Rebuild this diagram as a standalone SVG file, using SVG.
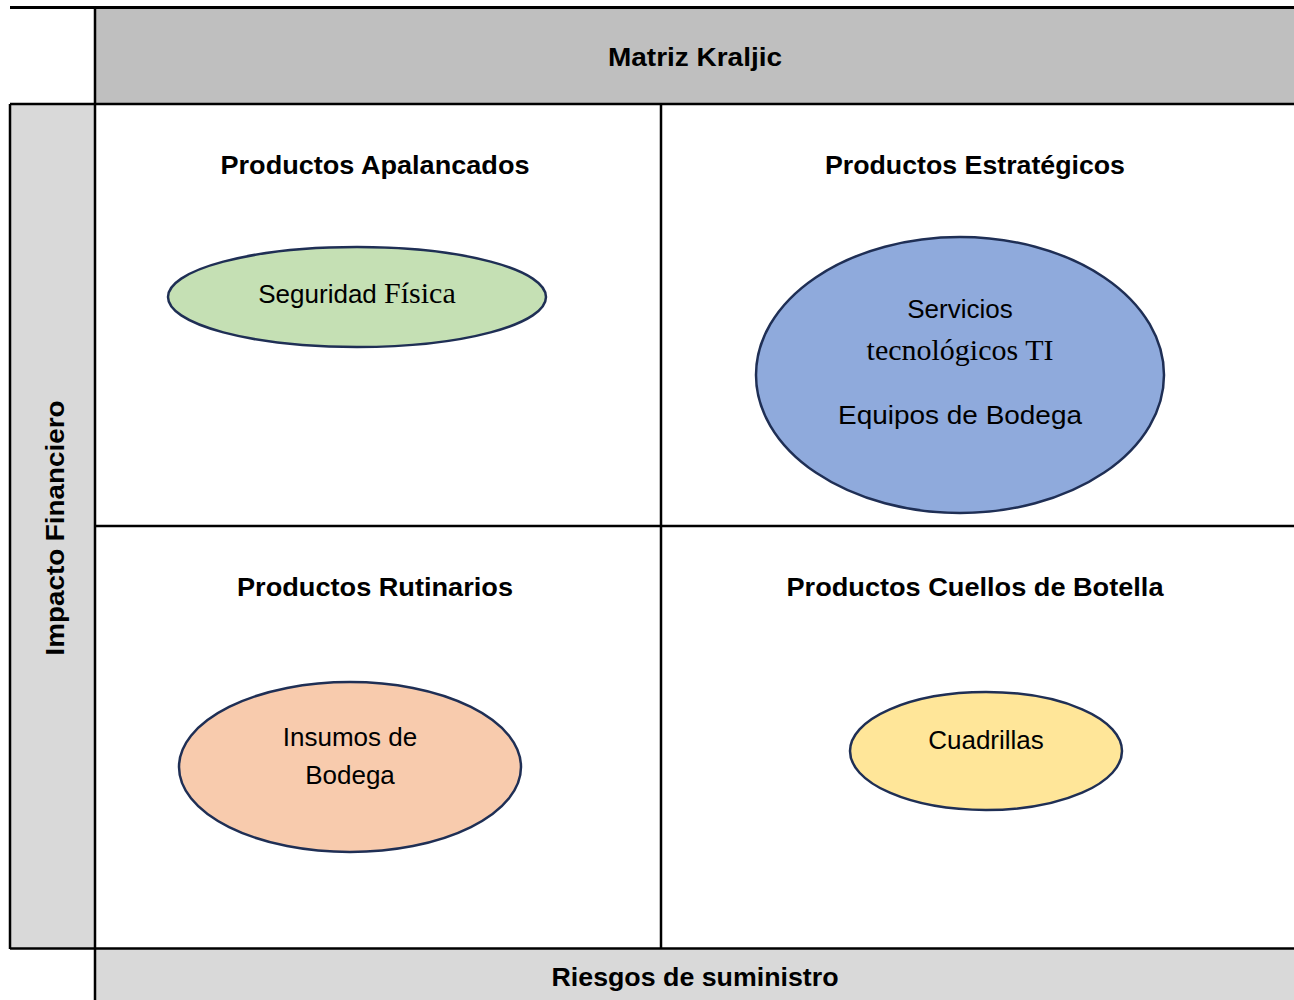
<svg xmlns="http://www.w3.org/2000/svg" width="1294" height="1000" viewBox="0 0 1294 1000">
<style>
.t{font-family:"Liberation Sans",Arial,sans-serif;font-weight:bold;font-size:25px;fill:#000;text-anchor:middle}
.e{font-family:"Liberation Sans",Arial,sans-serif;font-size:26px;fill:#000;text-anchor:middle}
.s{font-family:"Liberation Serif","Times New Roman",serif;font-size:30px}
.ln{stroke:#000;stroke-width:2.5;fill:none}
.el{stroke:#1f2f55;stroke-width:2.5}
</style>
<rect width="1294" height="1000" fill="#fff"/>
<g id="bands">
<rect x="95" y="7" width="1199" height="96" fill="#bfbfbf"/>
<rect x="10" y="104" width="85" height="844" fill="#d9d9d9"/>
<rect x="95" y="949" width="1199" height="51" fill="#d9d9d9"/>
</g>
<g id="grid" class="ln">
<line x1="10" y1="7.5" x2="1294" y2="7.5" style="stroke-width:3"/>
<line x1="95" y1="7" x2="95" y2="1000"/>
<line x1="10" y1="104" x2="1294" y2="104"/>
<line x1="10" y1="104" x2="10" y2="949"/>
<line x1="10" y1="948.5" x2="1294" y2="948.5"/>
<line x1="661" y1="104" x2="661" y2="948"/>
<line x1="95" y1="526" x2="1294" y2="526"/>
</g>
<g id="title"><text class="t" x="695" y="66" textLength="174" lengthAdjust="spacingAndGlyphs">Matriz Kraljic</text></g>
<g id="xaxis"><text class="t" x="695" y="986" textLength="287" lengthAdjust="spacingAndGlyphs">Riesgos de suministro</text></g>
<g id="yaxis"><text class="t" transform="translate(64,528) rotate(-90)" x="0" y="0" textLength="255" lengthAdjust="spacingAndGlyphs">Impacto Financiero</text></g>
<g id="q1">
<text class="t" x="375" y="174" textLength="309" lengthAdjust="spacingAndGlyphs">Productos Apalancados</text>
<ellipse class="el" cx="357" cy="297" rx="189" ry="50" fill="#c5e0b4"/>
<text class="e" x="357" y="303">Seguridad <tspan class="s">Física</tspan></text>
</g>
<g id="q2">
<text class="t" x="975" y="174" textLength="300" lengthAdjust="spacingAndGlyphs">Productos Estratégicos</text>
<ellipse class="el" cx="960" cy="375" rx="204" ry="138" fill="#8faadc"/>
<text class="e" x="960" y="318">Servicios</text>
<text class="e s" x="960" y="360">tecnológicos TI</text>
<text class="e" x="960" y="424" textLength="244" lengthAdjust="spacingAndGlyphs">Equipos de Bodega</text>
</g>
<g id="q3">
<text class="t" x="375" y="596" textLength="276" lengthAdjust="spacingAndGlyphs">Productos Rutinarios</text>
<ellipse class="el" cx="350" cy="767" rx="171" ry="85" fill="#f8cbad"/>
<text class="e" x="350" y="746">Insumos de</text>
<text class="e" x="350" y="784">Bodega</text>
</g>
<g id="q4">
<text class="t" x="975" y="596" textLength="377" lengthAdjust="spacingAndGlyphs">Productos Cuellos de Botella</text>
<ellipse class="el" cx="986" cy="751" rx="136" ry="59" fill="#ffe699"/>
<text class="e" x="986" y="749">Cuadrillas</text>
</g>
</svg>
